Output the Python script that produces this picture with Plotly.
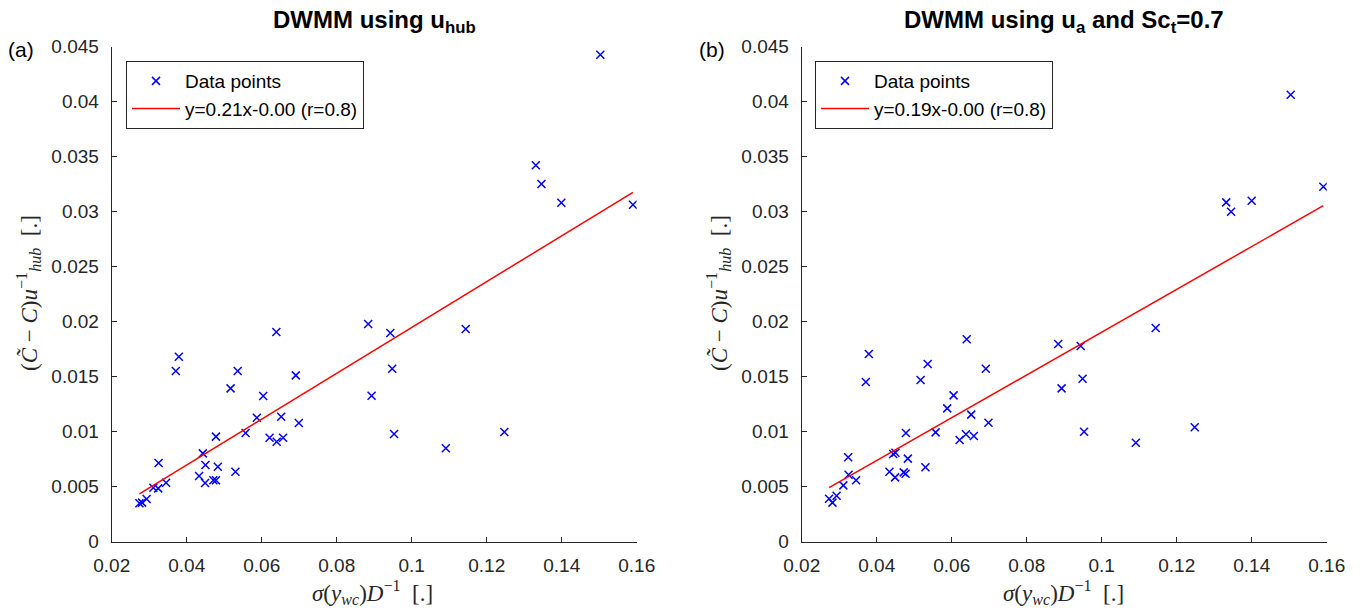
import plotly.graph_objects as go

# ---- data ----
x_a = [0.0274, 0.0281, 0.0293, 0.0311, 0.0324, 0.0325, 0.0345, 0.0371, 0.0379, 0.0433,
       0.0443, 0.0450, 0.0449, 0.0471, 0.0478, 0.0483, 0.0478, 0.0517, 0.0536, 0.0530,
       0.0557, 0.0587, 0.0604, 0.0621, 0.0640, 0.0657, 0.0652, 0.0639, 0.0691, 0.0699,
       0.0884, 0.0943, 0.0948, 0.0893, 0.0953, 0.1091, 0.1144, 0.1247, 0.1503, 0.1331,
       0.1346, 0.1399, 0.1590]
y_a = [0.00349, 0.00355, 0.00388, 0.00491, 0.00485, 0.00715, 0.00536, 0.01552, 0.01682, 0.00597,
       0.00803, 0.00697, 0.00534, 0.00558, 0.00558, 0.00682, 0.00955, 0.01394, 0.01552, 0.00636,
       0.00988, 0.01127, 0.01324, 0.00945, 0.00909, 0.00945, 0.01136, 0.01906, 0.01512, 0.01079,
       0.01979, 0.01897, 0.01573, 0.01327, 0.00979, 0.00849, 0.01934, 0.00997, 0.04427, 0.03422,
       0.03252, 0.03082, 0.03064]

x_b = [0.0273, 0.0282, 0.0293, 0.0311, 0.0324, 0.0325, 0.0345, 0.0371, 0.0379, 0.0434,
       0.0444, 0.0450, 0.0449, 0.0472, 0.0477, 0.0483, 0.0478, 0.0517, 0.0536, 0.0530,
       0.0557, 0.0588, 0.0605, 0.0621, 0.0638, 0.0640, 0.0652, 0.0659, 0.0691, 0.0698,
       0.0884, 0.0944, 0.0949, 0.0893, 0.0953, 0.1091, 0.1144, 0.1248, 0.1504, 0.1332,
       0.1345, 0.1400, 0.1591]
y_b = [0.00391, 0.00355, 0.00418, 0.00512, 0.00767, 0.00609, 0.00558, 0.01452, 0.01706, 0.00636,
       0.00797, 0.00809, 0.00585, 0.00630, 0.00618, 0.00755, 0.00988, 0.01470, 0.01615, 0.00676,
       0.00994, 0.01212, 0.01330, 0.00924, 0.00976, 0.01840, 0.01155, 0.00961, 0.01573, 0.01082,
       0.01797, 0.01779, 0.01482, 0.01394, 0.01000, 0.00900, 0.01943, 0.01040, 0.04064, 0.03085,
       0.03000, 0.03100, 0.03227]

fit_a = (0.2084, -0.00137)   # slope, intercept
fit_b = (0.1945, -0.00040)

x_ticks = [0.02, 0.04, 0.06, 0.08, 0.1, 0.12, 0.14, 0.16]
x_ticklabels = ["0.02", "0.04", "0.06", "0.08", "0.1", "0.12", "0.14", "0.16"]
y_ticks = [0, 0.005, 0.01, 0.015, 0.02, 0.025, 0.03, 0.035, 0.04, 0.045]
y_ticklabels = ["0", "0.005", "0.01", "0.015", "0.02", "0.025", "0.03", "0.035", "0.04", "0.045"]

legend_a = ["Data points", "y=0.21x-0.00 (r=0.8)"]
legend_b = ["Data points", "y=0.19x-0.00 (r=0.8)"]

# ---- figure ----
W, H = 1365, 611
AX = "#262626"
SANS = "Liberation Sans, Arial, sans-serif"
SERIF = "Liberation Serif, Times New Roman, serif"

fig = go.Figure()

def add_panel(xs, ys, fit, labels, xaxis, yaxis, legend):
    fig.add_trace(go.Scatter(
        x=xs, y=ys, mode="markers", name=labels[0],
        marker=dict(symbol="x-thin", size=8, line=dict(color="#0000ff", width=1.5), color="#0000ff"),
        xaxis=xaxis, yaxis=yaxis, legend=legend))
    x0, x1 = min(xs), max(xs)
    fig.add_trace(go.Scatter(
        x=[x0, x1], y=[fit[0] * x0 + fit[1], fit[0] * x1 + fit[1]], mode="lines", name=labels[1],
        line=dict(color="#ff0000", width=1.5),
        xaxis=xaxis, yaxis=yaxis, legend=legend))

add_panel(x_a, y_a, fit_a, legend_a, "x", "y", "legend")
add_panel(x_b, y_b, fit_b, legend_b, "x2", "y2", "legend2")

def px_x(p):
    return p / W

def px_y(p):
    return 1 - p / H

left_dom = [px_x(111.7), px_x(636.7)]
right_dom = [px_x(801.7), px_x(1326.7)]
y_dom = [px_y(541.7), px_y(46.7)]

axis_common = dict(showline=True, linecolor=AX, linewidth=1, mirror=False,
                   ticks="inside", ticklen=5, tickcolor=AX, tickwidth=1,
                   showgrid=False, zeroline=False, automargin=False,
                   tickfont=dict(family=SANS, size=19, color=AX))
xax = dict(range=[0.02, 0.16], tickvals=x_ticks, ticktext=x_ticklabels, ticklabelstandoff=6, **axis_common)
yax = dict(domain=y_dom, range=[0, 0.045], tickvals=y_ticks, ticktext=y_ticklabels, ticklabelstandoff=8, **axis_common)

leg_common = dict(xanchor="left", yanchor="top", bordercolor=AX, borderwidth=1, bgcolor="white",
                  font=dict(family=SANS, size=19, color="black"), tracegroupgap=0, itemwidth=48)

fig.update_layout(
    template="none",
    width=W, height=H, margin=dict(l=0, r=0, t=0, b=0, autoexpand=False),
    paper_bgcolor="white", plot_bgcolor="white",
    xaxis=dict(domain=left_dom, anchor="y", **xax),
    yaxis=dict(anchor="x", **yax),
    xaxis2=dict(domain=right_dom, anchor="y2", **xax),
    yaxis2=dict(anchor="x2", **yax),
    legend=dict(x=px_x(126), y=px_y(61), **leg_common),
    legend2=dict(x=px_x(815), y=px_y(61), **leg_common),
    showlegend=True,
)

ann = []
# titles
ann.append(dict(text="<b>DWMM using u<sub>hub</sub></b>", x=px_x(374), y=px_y(21),
                xref="paper", yref="paper", showarrow=False, xanchor="center", yanchor="middle",
                font=dict(family=SANS, size=24, color="black")))
ann.append(dict(text="<b>DWMM using u<sub>a</sub> and Sc<sub>t</sub>=0.7</b>", x=px_x(1064), y=px_y(21),
                xref="paper", yref="paper", showarrow=False, xanchor="center", yanchor="middle",
                font=dict(family=SANS, size=24, color="black")))
# panel labels
for lab, xp in (("(a)", 21), ("(b)", 712)):
    ann.append(dict(text=lab, x=px_x(xp), y=px_y(50), xref="paper", yref="paper", showarrow=False,
                    xanchor="center", yanchor="middle", font=dict(family=SANS, size=21, color="black")))
# axis titles
ytitle = "(<i>C&#771;</i> − <i>C</i>)<i>u</i><sup>−1</sup><sub><i>hub</i></sub>  [.]"
xtitle = "<i>σ</i>(<i>y</i><sub><i>wc</i></sub>)<i>D</i><sup>−1</sup>  [.]"
for xp in (28, 718):
    ann.append(dict(text=ytitle, x=px_x(xp), y=px_y(293), xref="paper", yref="paper", showarrow=False,
                    textangle=-90, xanchor="center", yanchor="middle",
                    font=dict(family=SERIF, size=23, color=AX)))
for xp in (373, 1063):
    ann.append(dict(text=xtitle, x=px_x(xp), y=px_y(592), xref="paper", yref="paper", showarrow=False,
                    xanchor="center", yanchor="middle",
                    font=dict(family=SERIF, size=23, color=AX)))
fig.update_layout(annotations=ann)

fig.write_html("out.html")
